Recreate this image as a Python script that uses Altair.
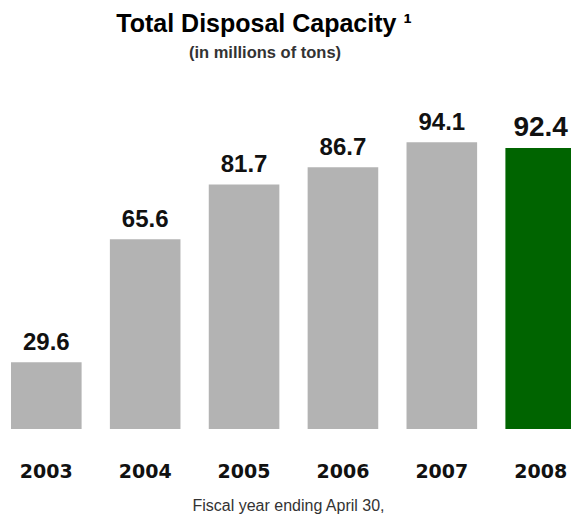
import altair as alt
import pandas as pd

years = ["2003", "2004", "2005", "2006", "2007", "2008"]
capacity = [29.6, 65.6, 81.7, 86.7, 94.1, 92.4]
labels = ["29.6", "65.6", "81.7", "86.7", "94.1", "92.4"]

title_text = "Total Disposal Capacity \u00b9"
subtitle_text = "(in millions of tons)"
x_title = "Fiscal year ending April 30,"

df = pd.DataFrame({"year": years, "capacity": capacity, "label": labels})

x_enc = alt.X(
    "year:N",
    sort=years,
    scale=alt.Scale(range=[0, 565], paddingInner=0.286, paddingOuter=0),
    axis=alt.Axis(
        title=x_title,
        labelAngle=0,
        labelFont="DejaVu Sans",
        labelFontWeight="bold",
        labelFontSize=19,
        labelColor="#111111",
        labelBaseline="alphabetic",
        labelPadding=48,
        ticks=False,
        tickSize=0,
        domain=False,
        grid=False,
        titleFont="Liberation Sans",
        titleFontSize=16,
        titleFontWeight="normal",
        titleColor="#333333",
        titleBaseline="alphabetic",
        titleAlign="center",
        titleX=277,
        titleY=81,
    ),
)
y_enc = alt.Y("capacity:Q", scale=alt.Scale(domain=[10, 100], zero=False, nice=False), axis=None)

is_last = alt.datum.year == "2008"

bars = alt.Chart(df).mark_bar().encode(
    x=x_enc,
    y=y_enc,
    y2=alt.datum(10),
    color=alt.condition(is_last, alt.value("#006400"), alt.value("#b3b3b3")),
)

value_labels = alt.Chart(df).mark_text(
    font="Liberation Sans", fontWeight="bold", baseline="alphabetic", align="center", dy=-12, color="#111111"
).encode(
    x=alt.X("year:N", sort=years),
    y=alt.Y("capacity:Q"),
    text="label:N",
    size=alt.condition(is_last, alt.value(28), alt.value(24)),
)

title_layer = alt.Chart(pd.DataFrame({"t": [title_text]})).mark_text(
    font="Liberation Sans", fontWeight="bold", fontSize=25, baseline="alphabetic", align="center", color="#000000"
).encode(x=alt.value(253), y=alt.value(-90), text="t:N")

subtitle_layer = alt.Chart(pd.DataFrame({"t": [subtitle_text]})).mark_text(
    font="Liberation Sans", fontWeight="bold", fontSize=16.5, baseline="alphabetic", align="center", color="#333333"
).encode(x=alt.value(254), y=alt.value(-64), text="t:N")

chart = alt.layer(bars, value_labels, title_layer, subtitle_layer).properties(
    width=560,
    height=307,
    autosize=alt.AutoSizeParams(type="none"),
    padding={"left": 11, "top": 122, "right": 0, "bottom": 89},
    background="white",
).configure_view(stroke=None)

chart.save("out.html", embed_options={"renderer": "svg", "actions": False})
